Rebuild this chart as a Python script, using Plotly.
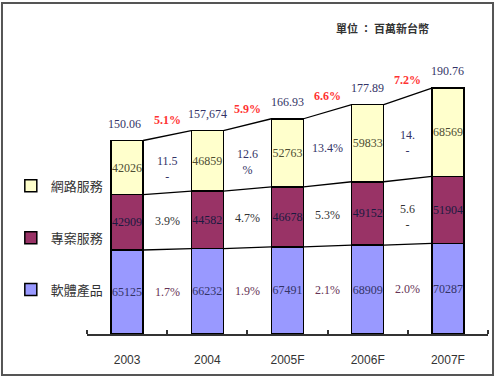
import plotly.graph_objects as go

years = ["2003", "2004", "2005F", "2006F", "2007F"]
software = [65125, 66232, 67491, 68909, 70287]
project = [42909, 44582, 46678, 49152, 51904]
network = [42026, 46859, 52763, 59833, 68569]
total_labels = ["150.06", "157,674", "166.93", "177.89", "190.76"]
growth_total = ["5.1%", "5.9%", "6.6%", "7.2%"]
growth_network = ["11.5<br>-", "12.6<br>%", "13.4%", "14.<br>-"]
growth_project = ["3.9%", "4.7%", "5.3%", "5.6<br>-"]
growth_software = ["1.7%", "1.9%", "2.1%", "2.0%"]
names = ["軟體產品", "專案服務", "網路服務"]
colors = ["#9999FF", "#993366", "#FFFFCC"]
text_colors = ["#333366", "#1a1a40", "#4d4d33"]

SERIF = "Liberation Serif"
CJK = "Noto Sans CJK TC"
xs = list(range(len(years)))
W = 0.4

series = [software, project, network]
cum = []
run = [0] * len(years)
for s in series:
    run = [a + b for a, b in zip(run, s)]
    cum.append(run)
totals = cum[-1]

fig = go.Figure()
for k, s in enumerate(series):
    fig.add_trace(go.Bar(
        x=xs, y=s, width=W, name=names[k], legendgroup=names[k], legendrank=10 - k,
        marker=dict(color=colors[k], line=dict(color="#000000", width=1.5)),
        text=[str(v) for v in s], textposition="inside", insidetextanchor="middle",
        textangle=0, constraintext="none",
        textfont=dict(family=SERIF, size=12, color=text_colors[k]),
        hoverinfo="skip",
    ))

# connecting lines between bars at each segment boundary
for level in cum:
    lx, ly = [], []
    for i in range(len(years) - 1):
        lx += [xs[i] + W / 2, xs[i + 1] - W / 2, None]
        ly += [level[i], level[i + 1], None]
    fig.add_trace(go.Scatter(x=lx, y=ly, mode="lines", showlegend=False,
                             line=dict(color="#000000", width=1.3), hoverinfo="skip"))


def shift(t):
    return -5 if "<br>" in t else 0


ann = []
for i, t in enumerate(total_labels):
    ann.append(dict(x=xs[i], y=totals[i], text=t, showarrow=False, yshift=17,
                    xshift=-3 if i == 0 else 0,
                    font=dict(family=SERIF, size=12, color="#333366")))
for i in range(len(years) - 1):
    xm = xs[i] + 0.5
    ann.append(dict(x=xm, y=(totals[i] + totals[i + 1]) / 2, text=growth_total[i],
                    showarrow=False, yshift=16,
                    font=dict(family=SERIF, size=12, color="#FF3333", weight="bold")))
    mids = []
    lower = [0] * len(years)
    for k in range(3):
        upper = cum[k]
        mids.append(((lower[i] + upper[i]) / 2 + (lower[i + 1] + upper[i + 1]) / 2) / 2)
        lower = upper
    ann.append(dict(x=xm, y=mids[2], text=growth_network[i], showarrow=False,
                    yshift=shift(growth_network[i]),
                    font=dict(family=SERIF, size=12, color="#333366")))
    ann.append(dict(x=xm, y=mids[1], text=growth_project[i], showarrow=False,
                    yshift=shift(growth_project[i]),
                    font=dict(family=SERIF, size=12, color="#333333")))
    ann.append(dict(x=xm, y=mids[0], text=growth_software[i], showarrow=False,
                    font=dict(family=SERIF, size=12, color="#663355")))

ann.append(dict(xref="paper", yref="paper", x=0.738, y=1.041, xanchor="center", yanchor="middle",
                text="單位 ： 百萬新台幣",
                showarrow=False, font=dict(family=CJK, size=11, color="#333333", weight="bold")))

fig.update_layout(
    width=498, height=377,
    margin=dict(l=87, r=10, t=40, b=43, autoexpand=False),
    paper_bgcolor="white", plot_bgcolor="white",
    barmode="stack",
    showlegend=True,
    legend=dict(x=-0.19, xanchor="left", y=0.555, yanchor="top",
                traceorder="grouped", tracegroupgap=32,
                font=dict(family=CJK, size=13, color="#333333"),
                bgcolor="rgba(0,0,0,0)", itemwidth=30),
    xaxis=dict(range=[-0.5, 4.5], tickmode="array", tickvals=xs, ticktext=years,
               showline=True, linecolor="#333333", linewidth=1.5, ticks="",
               showgrid=False, zeroline=False, ticklabelstandoff=14,
               tickfont=dict(family="Liberation Sans", size=12, color="#333333"),
               minor=dict(tickmode="array", tickvals=[x - 0.5 for x in xs] + [xs[-1] + 0.5],
                          ticks="inside", ticklen=4, tickcolor="#333333", tickwidth=1.5,
                          showgrid=False)),
    yaxis=dict(range=[0, 228000], visible=False),
    annotations=ann,
    shapes=[dict(type="rect", xref="paper", yref="paper",
                 x0=-0.2120, x1=1.0125, y0=-0.1395, y1=1.1260,
                 line=dict(color="#555555", width=2))],
)

fig.write_html("out.html", config={"displayModeBar": False},
               post_script="document.body.style.margin='0';document.body.style.overflow='hidden';")
